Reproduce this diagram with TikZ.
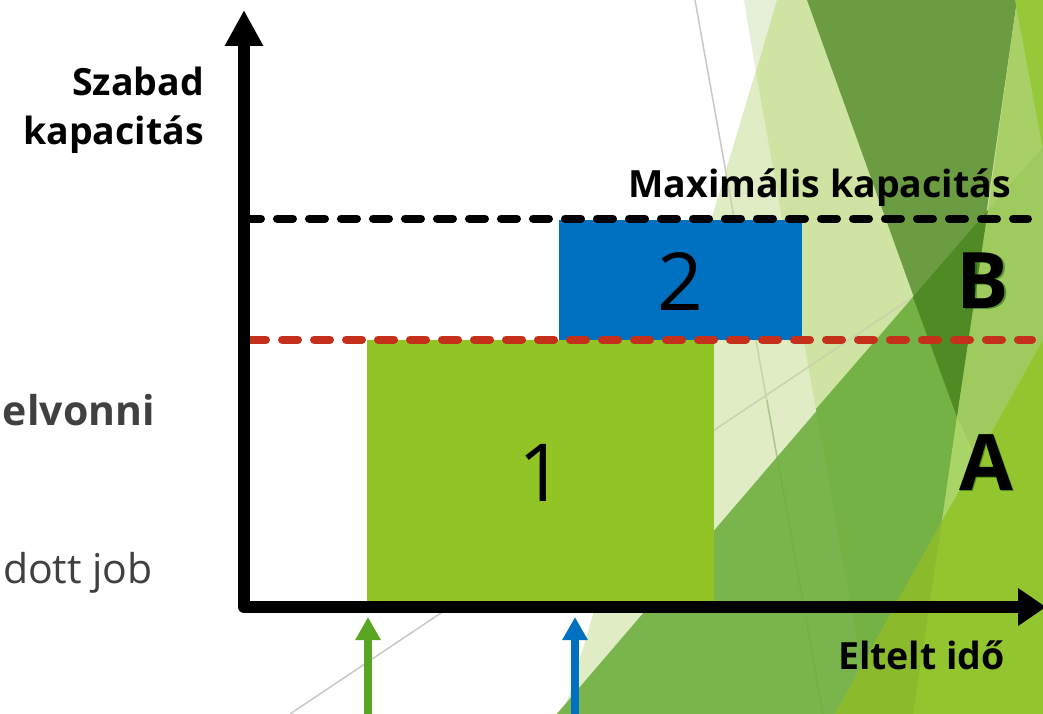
\documentclass[tikz,border=0pt]{standalone}
\usepackage{fontspec}
\setmainfont{Open Sans}
\usetikzlibrary{arrows.meta}
\definecolor{paleA}{HTML}{DFECC4}
\definecolor{paleB}{HTML}{E6F0D6}
\definecolor{paleC}{HTML}{CFE3A2}
\definecolor{midA}{HTML}{7AB44C}
\definecolor{midB}{HTML}{75B245}
\definecolor{darkA}{HTML}{6B9C41}
\definecolor{darkB}{HTML}{4F8A25}
\definecolor{limeA}{HTML}{97C83A}
\definecolor{limeB}{HTML}{A8D066}
\definecolor{limeC}{HTML}{9FCA5E}
\definecolor{limeD}{HTML}{A9D568}
\definecolor{brightA}{HTML}{93C52E}
\definecolor{brightB}{HTML}{8BBB2C}
\definecolor{jobgreen}{HTML}{92C426}
\definecolor{jobblue}{HTML}{0070C0}
\definecolor{arrowgreen}{HTML}{5AA623}
\definecolor{limitred}{HTML}{C5301A}
\definecolor{greytext}{HTML}{404040}
\definecolor{hair}{HTML}{C8C8C8}
\definecolor{hairpale}{HTML}{C7D3AE}
\tikzset{
  facet/.style={fill=#1,draw=none},
  hairline/.style={draw=#1,line width=1.5pt},
  axis/.style={line width=12pt,line join=round,
    {Triangle[length=36pt,width=36pt]}-{Triangle[length=28pt,width=36pt]}},
  limit/.style={line width=8pt,line cap=round,dash pattern=on 16pt off 16pt},
  jobarrow/.style={line width=8pt,-{Triangle[length=23pt,width=24pt]}},
  label/.style={inner sep=0pt,font=\fontsize{37.5}{49}\selectfont\bfseries},
  sidetext/.style={inner sep=0pt,text=greytext,font=\fontsize{41}{44}\selectfont},
  digit/.style={inner sep=0pt,font=\fontsize{80}{80}\selectfont},
  letter/.style={inner sep=0pt,font=\fontsize{78}{80}\selectfont\bfseries}
}
\begin{document}
\begin{tikzpicture}[x=1pt,y=-1pt]
\useasboundingbox (0,0) rectangle (1043,714);
\clip (0,0) rectangle (1043,714);
\fill[white] (0,0) rectangle (1043,714);

% Background facets
\draw[hairline=hair] (695,0) -- (823,714);
\draw[hairline=hair] (290,714) -- (913,297);
\fill[facet=paleA] (777,0) -- (557,735) -- (1043,735) -- (1043,0) -- cycle;
\fill[facet=paleB] (744,0) -- (777,0) -- (756,72) -- cycle;
\fill[facet=paleC] (756,72) -- (777,0) -- (1043,0) -- (1043,714) -- (816,409) -- cycle;
\begin{scope}
  \clip (777,0) -- (557,735) -- (1043,735) -- (1043,0) -- cycle;
  \draw[hairline=hairpale] (695,0) -- (823,714);
  \draw[hairline=hairpale] (290,714) -- (913,297);
\end{scope}
\fill[facet=midA] (555,716) -- (1043,147) -- (1043,714) -- cycle;
\fill[facet=midB] (816,409) -- (1043,147) -- (1043,714) -- (870,714) -- cycle;
\draw[draw=arrowgreen,opacity=.25,line width=1.5pt] (767,400) -- (823,714);
\fill[facet=darkA] (807,0) -- (1017,0) -- (957,417) -- cycle;
\fill[facet=darkB] (913,297) -- (988,210) -- (957,417) -- cycle;
\fill[facet=limeB] (1017,0) -- (1043,150) -- (988,210) -- cycle;
\fill[facet=limeA] (1015,0) -- (1043,0) -- (1043,150) -- cycle;
\fill[facet=limeC] (988,210) -- (1043,147) -- (1043,345) -- (942,521) -- (957,417) -- cycle;
\fill[facet=limeD] (957,417) -- (942,521) -- (977,460) -- cycle;
\fill[facet=brightA] (835,714) -- (1043,340) -- (1043,714) -- cycle;
\fill[facet=brightB] (835,714) -- (942,521) -- (913,714) -- cycle;

% Job blocks
\node[fill=jobgreen,inner sep=0pt,minimum width=347pt,minimum height=262pt,anchor=north west] (jobone) at (367,340) {};
\node[fill=jobblue,inner sep=0pt,minimum width=243pt,minimum height=120pt,anchor=north west] (jobtwo) at (559,220) {};
\node[digit,anchor=base] (one) at (541,501) {1};
\node[digit,anchor=base] (two) at (680,310) {2};

% Capacity limits
\coordinate (blackstart) at (245,218.5);
\coordinate (blackend) at (1028,218.5);
\coordinate (redstart) at (250,339.5);
\coordinate (redend) at (1032,339.5);
\draw[limit,black] (blackstart) -- (blackend);
\draw[limit,limitred] (redstart) -- (redend);

% Axes
\coordinate (ytop) at (244,10);
\coordinate (origin) at (244,607);
\coordinate (xend) at (1046,607);
\draw[axis] (ytop) -- (origin) -- (xend);

% Job arrival arrows
\coordinate (greenfoot) at (368,720);
\coordinate (greentip) at (368,617);
\coordinate (bluefoot) at (575,720);
\coordinate (bluetip) at (575,617);
\draw[jobarrow,arrowgreen] (greenfoot) -- (greentip);
\draw[jobarrow,jobblue] (bluefoot) -- (bluetip);

% Labels
\node[label,anchor=base east] (ylabelone) at (204,96) {Szabad};
\node[label,anchor=base east] (ylabeltwo) at (204,145) {kapacitás};
\node[label,anchor=base east] (maxlabel) at (1011,197) {Maximális kapacitás};
\node[label,anchor=base east] (xlabel) at (1005,669) {Eltelt idő};
\node[sidetext,anchor=base east,font=\fontsize{41}{44}\selectfont\bfseries] (sideone) at (155,425) {elvonni};
\node[sidetext,anchor=base east] (sidetwo) at (153,583) {dott job};

% Queue letters with their soft shadows
\node[letter,anchor=base,text=black!70!green,opacity=.45] (bshadow) at (984.5,309.5) {B};
\node[letter,anchor=base] (bletter) at (983,308) {B};
\node[letter,anchor=base,text=black!70!green,opacity=.45] (ashadow) at (987.5,491.5) {A};
\node[letter,anchor=base] (aletter) at (986,490) {A};
\end{tikzpicture}
\end{document}
